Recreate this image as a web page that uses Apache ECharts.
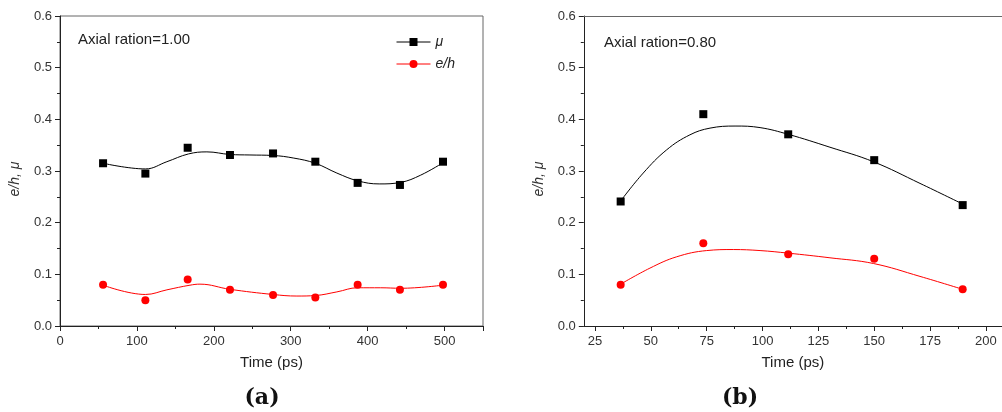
<!DOCTYPE html>
<html>
<head>
<meta charset="utf-8">
<script src="https://cdn.jsdelivr.net/npm/echarts@6/dist/echarts.min.js"></script>
<style>
  html, body { margin: 0; padding: 0; background: #fff; }
  #chart { width: 1002px; height: 412px; }
</style>
</head>
<body>
<div id="chart"></div>
<script>
// (a) axial ratio 1.00 - measured points
const timeA = [56, 111, 166, 221, 277, 332, 387, 442, 498];
const muA = [0.315, 0.295, 0.345, 0.331, 0.334, 0.318, 0.277, 0.273, 0.318];
const ehA = [0.080, 0.050, 0.090, 0.070, 0.060, 0.055, 0.080, 0.070, 0.080];
// (a) fitted curves
const fitMuTimeA = [56, 111, 139, 167, 191, 221, 247, 277, 304, 332, 360, 387, 415, 443, 469, 498];
const fitMuA = [0.315, 0.304, 0.318, 0.333, 0.337, 0.332, 0.331, 0.330, 0.325, 0.315, 0.296, 0.281, 0.275, 0.278, 0.292, 0.316];
const fitEhTimeA = [56, 111, 139, 169, 182, 221, 277, 308, 332, 360, 387, 417, 443, 498];
const fitEhA = [0.079, 0.061, 0.070, 0.079, 0.081, 0.071, 0.061, 0.058, 0.059, 0.066, 0.074, 0.074, 0.073, 0.079];

// (b) axial ratio 0.80
const timeB = [36.5, 73.5, 111.5, 150, 189.6];
const muB = [0.241, 0.410, 0.371, 0.321, 0.234];
const ehB = [0.080, 0.160, 0.139, 0.130, 0.071];
const fitMuTimeB = [36.5, 46.6, 57.1, 67.5, 76.5, 87.7, 98.9, 111.5, 130.2, 149.6, 170.5, 189.6];
const fitMuB = [0.242, 0.296, 0.341, 0.370, 0.383, 0.387, 0.384, 0.371, 0.346, 0.318, 0.276, 0.236];
const fitEhTimeB = [36.5, 49.6, 61.6, 75, 86.9, 98.9, 111.5, 130.2, 149.6, 170.5, 189.6];
const fitEhB = [0.081, 0.112, 0.134, 0.146, 0.148, 0.146, 0.141, 0.132, 0.121, 0.096, 0.071];

// tick labels of (b)
const ticksB = [25, 50, 75, 100, 125, 150, 175, 200];
const minorTicksB = [37.5, 62.5, 87.5, 112.5, 137.5, 162.5, 187.5];

const FONT = 'Liberation Sans, Arial, sans-serif';
const AXIS = '#222';
const zip = (xs, ys) => xs.map((x, i) => [x, ys[i]]);

function yAxisOf(gridIndex) {
  return {
    gridIndex: gridIndex,
    type: 'value',
    min: 0, max: 0.6, interval: 0.1,
    name: 'e/h, μ',
    nameLocation: 'middle',
    nameGap: 38,
    // nudge the name a bit below the middle, like the original
    nameTextStyle: { fontFamily: FONT, fontSize: 14, fontStyle: 'italic', color: '#333', padding: [0, 16, 0, 0] },
    axisLine: { show: true, lineStyle: { color: AXIS, width: 1 } },
    axisTick: { show: true, inside: false, length: 5, lineStyle: { color: AXIS } },
    minorTick: { show: true, splitNumber: 2, length: 3, lineStyle: { color: AXIS } },
    axisLabel: {
      fontFamily: FONT, fontSize: 13, color: '#333', margin: 8,
      formatter: v => v.toFixed(1)
    },
    splitLine: { show: false }
  };
}

const xName = {
  name: 'Time (ps)',
  nameLocation: 'middle',
  nameGap: 29,
  nameTextStyle: { fontFamily: FONT, fontSize: 15, color: '#222' }
};

function curve(name, xi, yi, data, color) {
  return {
    name: name, type: 'line', xAxisIndex: xi, yAxisIndex: yi,
    data: data, smooth: 0.4, showSymbol: false,
    symbol: color === '#000' ? 'rect' : 'circle',
    symbolSize: 8,
    itemStyle: { color: color },
    lineStyle: { color: color, width: 1 },
    silent: true, z: 2
  };
}
function dots(name, xi, yi, data, color) {
  let sq = color === '#000';
  return {
    name: name, type: 'scatter', xAxisIndex: xi, yAxisIndex: yi,
    data: data,
    symbol: sq ? 'rect' : 'circle',
    symbolSize: 8,
    itemStyle: { color: color, opacity: 1 },
    z: 3
  };
}

const chart = echarts.init(document.getElementById('chart'));
chart.setOption({
  backgroundColor: '#fff',
  animation: false,
  grid: [
    { left: 60, top: 16, width: 423, height: 310, show: true, borderColor: '#666', borderWidth: 1 },
    // right panel runs off the edge of the picture
    { left: 583.8, top: 16, width: 418.2, height: 310, show: false }
  ],
  xAxis: [
    Object.assign({
      gridIndex: 0, type: 'value', min: 0, max: 550, interval: 100,
      axisLine: { show: true, onZero: false, lineStyle: { color: AXIS } },
      axisTick: { show: true, length: 5, lineStyle: { color: AXIS } },
      minorTick: { show: true, splitNumber: 2, length: 3, lineStyle: { color: AXIS } },
      axisLabel: { fontFamily: FONT, fontSize: 13, color: '#333', margin: 9, showMaxLabel: false },
      splitLine: { show: false }
    }, xName),
    Object.assign({
      gridIndex: 1, type: 'value', min: 20, max: 207.2, position: 'bottom',
      axisLine: { show: true, onZero: false, lineStyle: { color: AXIS } },
      axisTick: { show: true, length: 5, customValues: ticksB, lineStyle: { color: AXIS } },
      axisLabel: { fontFamily: FONT, fontSize: 13, color: '#333', margin: 9, customValues: ticksB },
      splitLine: { show: false }
    }, xName),
    // minor ticks of (b)
    {
      gridIndex: 1, type: 'value', min: 20, max: 207.2, position: 'bottom',
      axisLine: { show: false },
      axisTick: { show: true, length: 3, customValues: minorTicksB, lineStyle: { color: AXIS } },
      axisLabel: { show: false },
      splitLine: { show: false }
    },
    // top frame line of (b)
    {
      gridIndex: 1, type: 'value', min: 20, max: 207.2, position: 'top',
      axisLine: { show: true, lineStyle: { color: '#666' } },
      axisTick: { show: false },
      axisLabel: { show: false },
      splitLine: { show: false }
    }
  ],
  yAxis: [yAxisOf(0), yAxisOf(1)],
  legend: {
    left: 396, top: 35,
    padding: 0,
    orient: 'vertical',
    itemWidth: 34, itemHeight: 10, itemGap: 8,
    lineStyle: { width: 1 },
    textStyle: { fontFamily: FONT, fontSize: 14, fontStyle: 'italic', color: '#222' },
    data: ['μ', 'e/h']
  },
  graphic: [
    { type: 'text', left: 78, top: 32, style: { text: 'Axial ration=1.00', font: '15px ' + FONT, fill: '#222' } },
    { type: 'text', left: 604, top: 35, style: { text: 'Axial ration=0.80', font: '15px ' + FONT, fill: '#222' } },
    { type: 'text', style: { x: 262, y: 398, text: '(a)', textAlign: 'center', textVerticalAlign: 'middle', font: 'bold 22px DejaVu Serif, serif', fill: '#111' } },
    { type: 'text', style: { x: 740, y: 398, text: '(b)', textAlign: 'center', textVerticalAlign: 'middle', font: 'bold 22px DejaVu Serif, serif', fill: '#111' } }
  ],
  series: [
    curve('μ', 0, 0, zip(fitMuTimeA, fitMuA), '#000'),
    curve('e/h', 0, 0, zip(fitEhTimeA, fitEhA), '#f00'),
    dots('μ', 0, 0, zip(timeA, muA), '#000'),
    dots('e/h', 0, 0, zip(timeA, ehA), '#f00'),
    curve('μ', 1, 1, zip(fitMuTimeB, fitMuB), '#000'),
    curve('e/h', 1, 1, zip(fitEhTimeB, fitEhB), '#f00'),
    dots('μ', 1, 1, zip(timeB, muB), '#000'),
    dots('e/h', 1, 1, zip(timeB, ehB), '#f00')
  ]
});
</script>
</body>
</html>
